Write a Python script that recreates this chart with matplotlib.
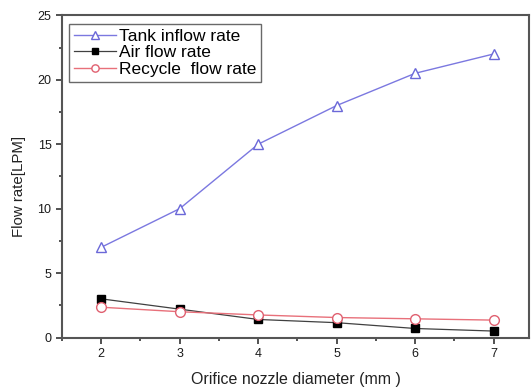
import matplotlib
matplotlib.use("Agg")
import matplotlib.pyplot as plt
from matplotlib.ticker import MultipleLocator

plt.rcParams['font.family'] = ['Liberation Sans', 'DejaVu Sans']

diameter = [2, 3, 4, 5, 6, 7]
tank_inflow = [7.0, 10.0, 15.0, 18.0, 20.5, 22.0]
air_flow = [3.0, 2.2, 1.4, 1.15, 0.7, 0.5]
recycle_flow = [2.35, 2.0, 1.75, 1.55, 1.45, 1.35]

fig = plt.figure(figsize=(5.32, 3.91), dpi=100)
ax = fig.add_axes([0.1165, 0.1368, 0.8779, 0.8241])

ax.plot(diameter, tank_inflow, color='#7b78e0', lw=1.0, marker='^', ms=7,
        mfc='white', mec='#6b68d8', mew=1.0, label='Tank inflow rate')
ax.plot(diameter, air_flow, color='#404040', lw=0.9, marker='s', ms=6,
        mfc='black', mec='black', label='Air flow rate')
ax.plot(diameter, recycle_flow, color='#e8707a', lw=1.0, marker='o', ms=7,
        mfc='white', mec='#e06070', mew=1.0, label='Recycle  flow rate')

ax.set_xlim(1.5, 7.45)
ax.set_ylim(0, 25)
ax.xaxis.set_major_locator(MultipleLocator(1))
ax.xaxis.set_minor_locator(MultipleLocator(0.5))
ax.yaxis.set_major_locator(MultipleLocator(5))
ax.yaxis.set_minor_locator(MultipleLocator(2.5))
ax.tick_params(which='both', direction='out', top=False, right=False,
               color='#333333', labelsize=9, labelcolor='#1a1a1a', width=1.2)
ax.tick_params(which='major', length=4)
ax.tick_params(which='minor', length=2.5)
for s in ax.spines.values():
    s.set_linewidth(1.5)
    s.set_color('#555555')

ax.set_xlabel('Orifice nozzle diameter (mm )', fontsize=11.5, color='#222222',
              labelpad=9)
ax.set_ylabel('Flow rate[LPM]', fontsize=10.8, color='#222222')
ax.yaxis.set_label_coords(-0.077, 0.47)

leg = ax.legend(loc='upper left', bbox_to_anchor=(0.008, 0.985), fontsize=12.5,
                frameon=True, fancybox=False, edgecolor='#444444',
                handlelength=2.4, handletextpad=0.15, borderpad=0.3,
                labelspacing=0.08, borderaxespad=0.2, markerscale=0.75)
leg.get_frame().set_linewidth(1.0)

fig.savefig('out.png', dpi=100)
